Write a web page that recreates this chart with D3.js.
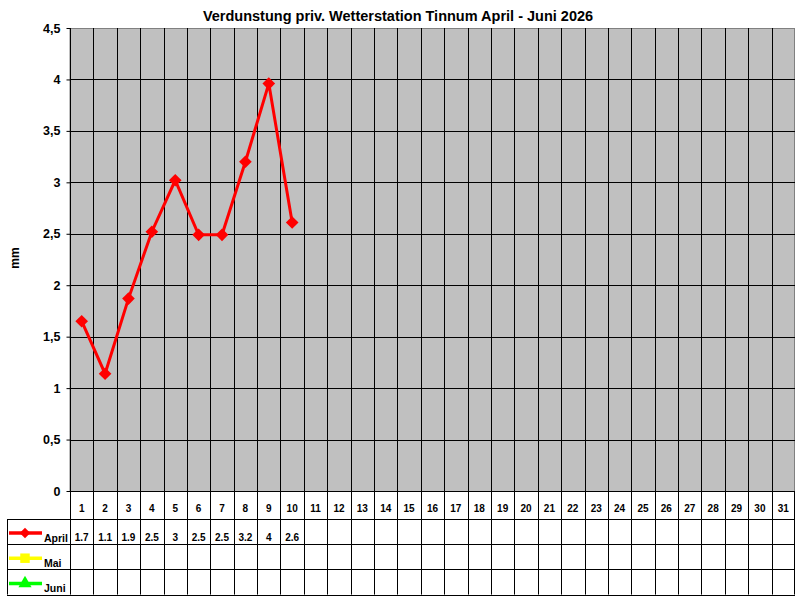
<!DOCTYPE html>
<html lang="de">
<head>
<meta charset="UTF-8">
<title>Verdunstung Tinnum</title>
<script src="https://d3js.org/d3.v7.min.js"></script>
<style>
  body { margin: 0; background: #fff; }
  text { font-family: Arial, "Liberation Sans", sans-serif; font-weight: bold; fill: #000; }
</style>
</head>
<body>
<script>
// Tage des Monats
var days = d3.range(1, 32);
// Verdunstung in mm (April)
var april = [1.65, 1.14, 1.87, 2.52, 3.02, 2.49, 2.49, 3.2, 3.96, 2.61];
var mai = [];
var juni = [];
var yTicks = [0, 0.5, 1, 1.5, 2, 2.5, 3, 3.5, 4, 4.5];

// Raute = gedrehtes Quadrat
var series = [
  { name: "April", values: april, color: "#ff0000", symbol: d3.symbolSquare, rotate: 45, legendSize: 55 },
  { name: "Mai", values: mai, color: "#ffff00", symbol: d3.symbolSquare, rotate: 0, legendSize: 90 },
  { name: "Juni", values: juni, color: "#00ff00", symbol: d3.symbolTriangle, rotate: 0, legendSize: 75 }
];

var width = 800, height = 600;
var plotLeft = 70, plotRight = 795, plotTop = 28, plotBottom = 491;
var tableLeft = 7, headerBottom = 519, rowH = 25.2;

var svg = d3.select("body").append("svg")
  .attr("width", width)
  .attr("height", height);

var x = d3.scaleBand().domain(days).range([plotLeft, plotRight]);
var y = d3.scaleLinear().domain([0, 4.5]).range([plotBottom, plotTop]);

// Plotfläche
svg.append("rect")
  .attr("x", plotLeft).attr("y", plotTop + 0.5)
  .attr("width", plotRight - plotLeft - 0.5).attr("height", plotBottom - plotTop)
  .attr("fill", "#c0c0c0")
  .attr("stroke", "#808080");

// horizontale Gitterlinien
svg.append("g").selectAll("line")
  .data(yTicks.filter(d => d < 4.5))
  .join("line")
  .attr("x1", plotLeft).attr("x2", plotRight)
  .attr("y1", d => Math.round(y(d)) + 0.5).attr("y2", d => Math.round(y(d)) + 0.5)
  .attr("stroke", "#000");

// Spaltenlinien durch Plot und Tabelle
var tableBottom = headerBottom + rowH * 3;
svg.append("g").selectAll("line")
  .data(days.slice(1))
  .join("line")
  .attr("x1", d => Math.round(x(d)) + 0.5).attr("x2", d => Math.round(x(d)) + 0.5)
  .attr("y1", plotTop).attr("y2", tableBottom)
  .attr("stroke", "#000");

// y-Achse
svg.append("g")
  .attr("transform", "translate(" + (plotLeft + 0.5) + ",0)")
  .call(d3.axisLeft(y).tickValues(yTicks).tickSize(4).tickPadding(6)
    .tickFormat(d => String(d).replace(".", ",")))
  .call(g => g.select(".domain").attr("stroke", "#000").attr("d", "M0," + plotTop + "V" + tableBottom))
  .call(g => g.selectAll(".tick line").attr("stroke", "#000"))
  .call(g => g.selectAll(".tick text").style("font-size", "12.5px").attr("fill", "#000"));

// Tabelle: Tageszahlen
svg.append("g").selectAll("text")
  .data(days)
  .join("text")
  .attr("x", d => x(d) + x.bandwidth() / 2)
  .attr("y", 512)
  .attr("text-anchor", "middle")
  .style("font-size", "10px")
  .text(d => d);

// Tabellenrahmen
var rowLines = [0, 1, 2, 3].map(i => headerBottom + i * rowH);
svg.append("g").selectAll("line")
  .data(rowLines)
  .join("line")
  .attr("x1", tableLeft).attr("x2", plotRight)
  .attr("y1", d => Math.round(d) + 0.5).attr("y2", d => Math.round(d) + 0.5)
  .attr("stroke", "#000");
svg.append("line")
  .attr("x1", tableLeft + 0.5).attr("x2", tableLeft + 0.5)
  .attr("y1", headerBottom).attr("y2", tableBottom)
  .attr("stroke", "#000");
svg.append("line")
  .attr("x1", plotRight - 0.5).attr("x2", plotRight - 0.5)
  .attr("y1", plotBottom).attr("y2", tableBottom)
  .attr("stroke", "#000");

// Legende + Werte
series.forEach(function (s, i) {
  var rowTop = headerBottom + i * rowH;
  var ly = rowTop + 14;
  svg.append("line")
    .attr("x1", 9).attr("x2", 42)
    .attr("y1", ly).attr("y2", ly)
    .attr("stroke", s.color).attr("stroke-width", 3.5);
  svg.append("path")
    .attr("d", d3.symbol().type(s.symbol).size(s.legendSize)())
    .attr("transform", "translate(25," + ly + ") rotate(" + s.rotate + ")")
    .attr("fill", s.color);
  svg.append("text")
    .attr("x", 44).attr("y", rowTop + 23)
    .style("font-size", "10.5px")
    .text(s.name);
  svg.append("g").selectAll("text")
    .data(s.values)
    .join("text")
    .attr("x", (d, j) => x(days[j]) + x.bandwidth() / 2)
    .attr("y", rowTop + 21.5)
    .attr("text-anchor", "middle")
    .style("font-size", "10px")
    .text(d => Math.round(d * 10) / 10);
});

// Datenlinie
var line = d3.line()
  .x((d, j) => x(days[j]) + x.bandwidth() / 2)
  .y(d => y(d));

series.forEach(function (s) {
  if (!s.values.length) return;
  svg.append("path")
    .datum(s.values)
    .attr("d", line)
    .attr("fill", "none")
    .attr("stroke", s.color)
    .attr("stroke-width", 3);
  svg.append("g").selectAll("path")
    .data(s.values)
    .join("path")
    .attr("d", d3.symbol().type(s.symbol).size(80)())
    .attr("transform", (d, j) => "translate(" + (x(days[j]) + x.bandwidth() / 2) + "," + y(d) + ") rotate(" + s.rotate + ")")
    .attr("fill", s.color);
});

// Titel
svg.append("text")
  .attr("x", 398).attr("y", 21)
  .attr("text-anchor", "middle")
  .style("font-size", "14.5px")
  .text("Verdunstung priv. Wetterstation Tinnum April - Juni 2026");

// y-Achsentitel
svg.append("text")
  .attr("transform", "translate(19,258) rotate(-90)")
  .attr("text-anchor", "middle")
  .style("font-size", "12px")
  .text("mm");
</script>
</body>
</html>
